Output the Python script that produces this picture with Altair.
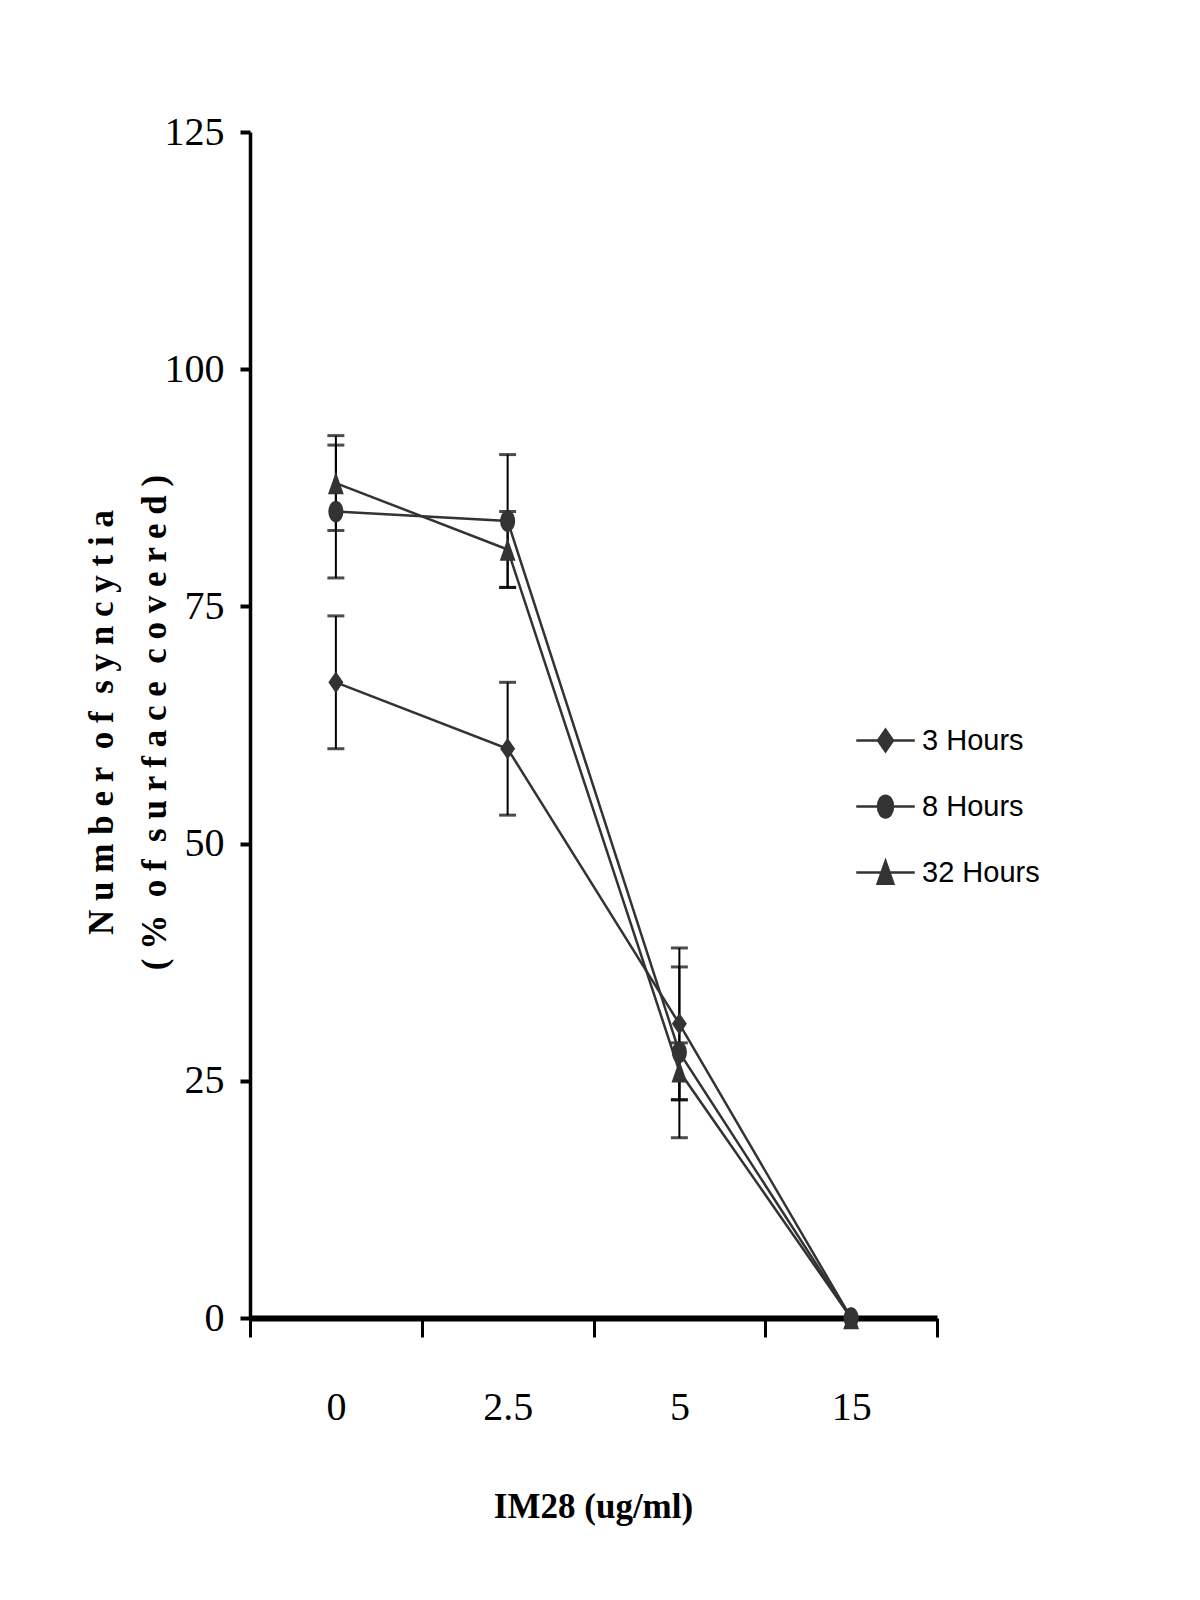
import altair as alt
import pandas as pd

# ---- data ----
doses = ["0", "2.5", "5", "15"]
series = ["3 Hours", "8 Hours", "32 Hours"]
mean_3h = [67, 60, 31, 0]
err_3h = [7, 7, 8, 0]
mean_8h = [85, 84, 28, 0]
err_8h = [7, 7, 9, 0]
mean_32h = [88, 81, 26, 0]
err_32h = [5, 4, 3, 0]
y_ticks = [0, 25, 50, 75, 100, 125]

rows = []
for s, means, errs in zip(series, [mean_3h, mean_8h, mean_32h], [err_3h, err_8h, err_32h]):
    for i, (d, m, e) in enumerate(zip(doses, means, errs)):
        rows.append(dict(series=s, dose=d, idx=i, mean=m, err=e, low=m - e, high=m + e))
df = pd.DataFrame(rows)

# tall diamond / ellipse / triangle markers
marker_paths = [
    "M0,-1.45L1,0L0,1.45L-1,0Z",
    "M-1,0A1,1.45,0,1,0,1,0A1,1.45,0,1,0,-1,0Z",
    "M0,-1.5L1.05,1.5L-1.05,1.5Z",
]
# same markers with the line segment through them, for the legend
legend_paths = ["M-3.9,0L3.9,0M" + p[1:] for p in marker_paths]

DARK = "#333333"
SERIF = "Liberation Serif"
NB = "\u00a0"


def spaced(words):
    return (NB * 2).join(" ".join(w) for w in words)


y_title = [
    spaced(["Number", "of", "syncytia"]),
    spaced(["(%", "of", "surface", "covered)"]).replace("( %", "(" + NB + "%"),
]

x_axis = alt.Axis(
    title="IM28 (ug/ml)", tickBand="extent", labelAngle=0,
    domainColor="black", domainWidth=6, tickColor="black", tickWidth=3, tickSize=19,
    labelFont=SERIF, labelFontSize=40, labelColor="black", labelPadding=50,
    titleFont=SERIF, titleFontSize=35, titleFontWeight="bold", titleColor="black",
    titleX=343, titleY=188, titleBaseline="middle", titleAlign="center",
    grid=False,
)
y_axis = alt.Axis(
    title=y_title,
    values=y_ticks, grid=False,
    domainColor="black", domainWidth=3.5, tickColor="black", tickWidth=4, tickSize=10,
    labelFont=SERIF, labelFontSize=40, labelColor="black", labelPadding=16,
    titleFont=SERIF, titleFontSize=35, titleFontWeight="bold", titleColor="black",
    titleLineHeight=53, titleAngle=270, titleX=-149, titleY=590,
    titleBaseline="middle", titleAlign="center",
)

x_scale = alt.Scale(type="band", domain=doses, paddingInner=0, paddingOuter=0)
y_scale = alt.Scale(domain=[0, 125], nice=False)


def X():
    return alt.X("dose:N", sort=doses, scale=x_scale, bandPosition=0.5, axis=x_axis)


base = alt.Chart(df)

rules = base.mark_rule(color="black", strokeWidth=2).encode(
    x=X(),
    y=alt.Y("low:Q", scale=y_scale, axis=y_axis),
    y2="high:Q",
).transform_filter("datum.err > 0")

caps = base.transform_filter("datum.err > 0").transform_fold(
    ["low", "high"], as_=["end", "yval"]
).mark_tick(color="black", size=17, thickness=3, orient="horizontal").encode(
    x=X(),
    y=alt.Y("yval:Q", scale=y_scale, axis=y_axis),
)

lines = base.mark_line(color=DARK, strokeWidth=2.5).encode(
    x=X(),
    y=alt.Y("mean:Q", scale=y_scale, axis=y_axis),
    detail="series:N",
    order=alt.Order("idx:Q"),
)

points = base.mark_point(filled=True, color=DARK, opacity=1, size=225).encode(
    x=X(),
    y=alt.Y("mean:Q", scale=y_scale, axis=y_axis),
    shape=alt.Shape(
        "series:N", sort=series,
        scale=alt.Scale(domain=series, range=marker_paths),
        legend=None,
    ),
)

# legend-only layer: draws no marks, carries the legend with line+marker symbols
legend_layer = base.transform_filter("false").mark_point(
    filled=True, fill=DARK, stroke=DARK, strokeWidth=2.5, opacity=1, size=225
).encode(
    x=X(),
    y=alt.Y("mean:Q", scale=y_scale, axis=y_axis),
    shape=alt.Shape(
        "series:N", sort=series,
        scale=alt.Scale(domain=series, range=legend_paths),
        legend=alt.Legend(
            title=None, orient="none", legendX=621, legendY=594,
            labelFont="Liberation Sans", labelFontSize=29, labelColor="black",
            symbolStrokeWidth=2.5, symbolSize=225,
            labelOffset=22, rowPadding=33, padding=0,
        ),
    ),
)

chart = alt.layer(rules, caps, lines, points, legend_layer).resolve_scale(
    shape="independent"
).properties(
    width=687, height=1186,
    autosize=alt.AutoSizeParams(type="none"),
    padding={"left": 242, "top": 124, "right": 255, "bottom": 274},
    background="white",
).configure_view(stroke=None)

chart.save("out.html", embed_options={"renderer": "svg", "actions": False})
